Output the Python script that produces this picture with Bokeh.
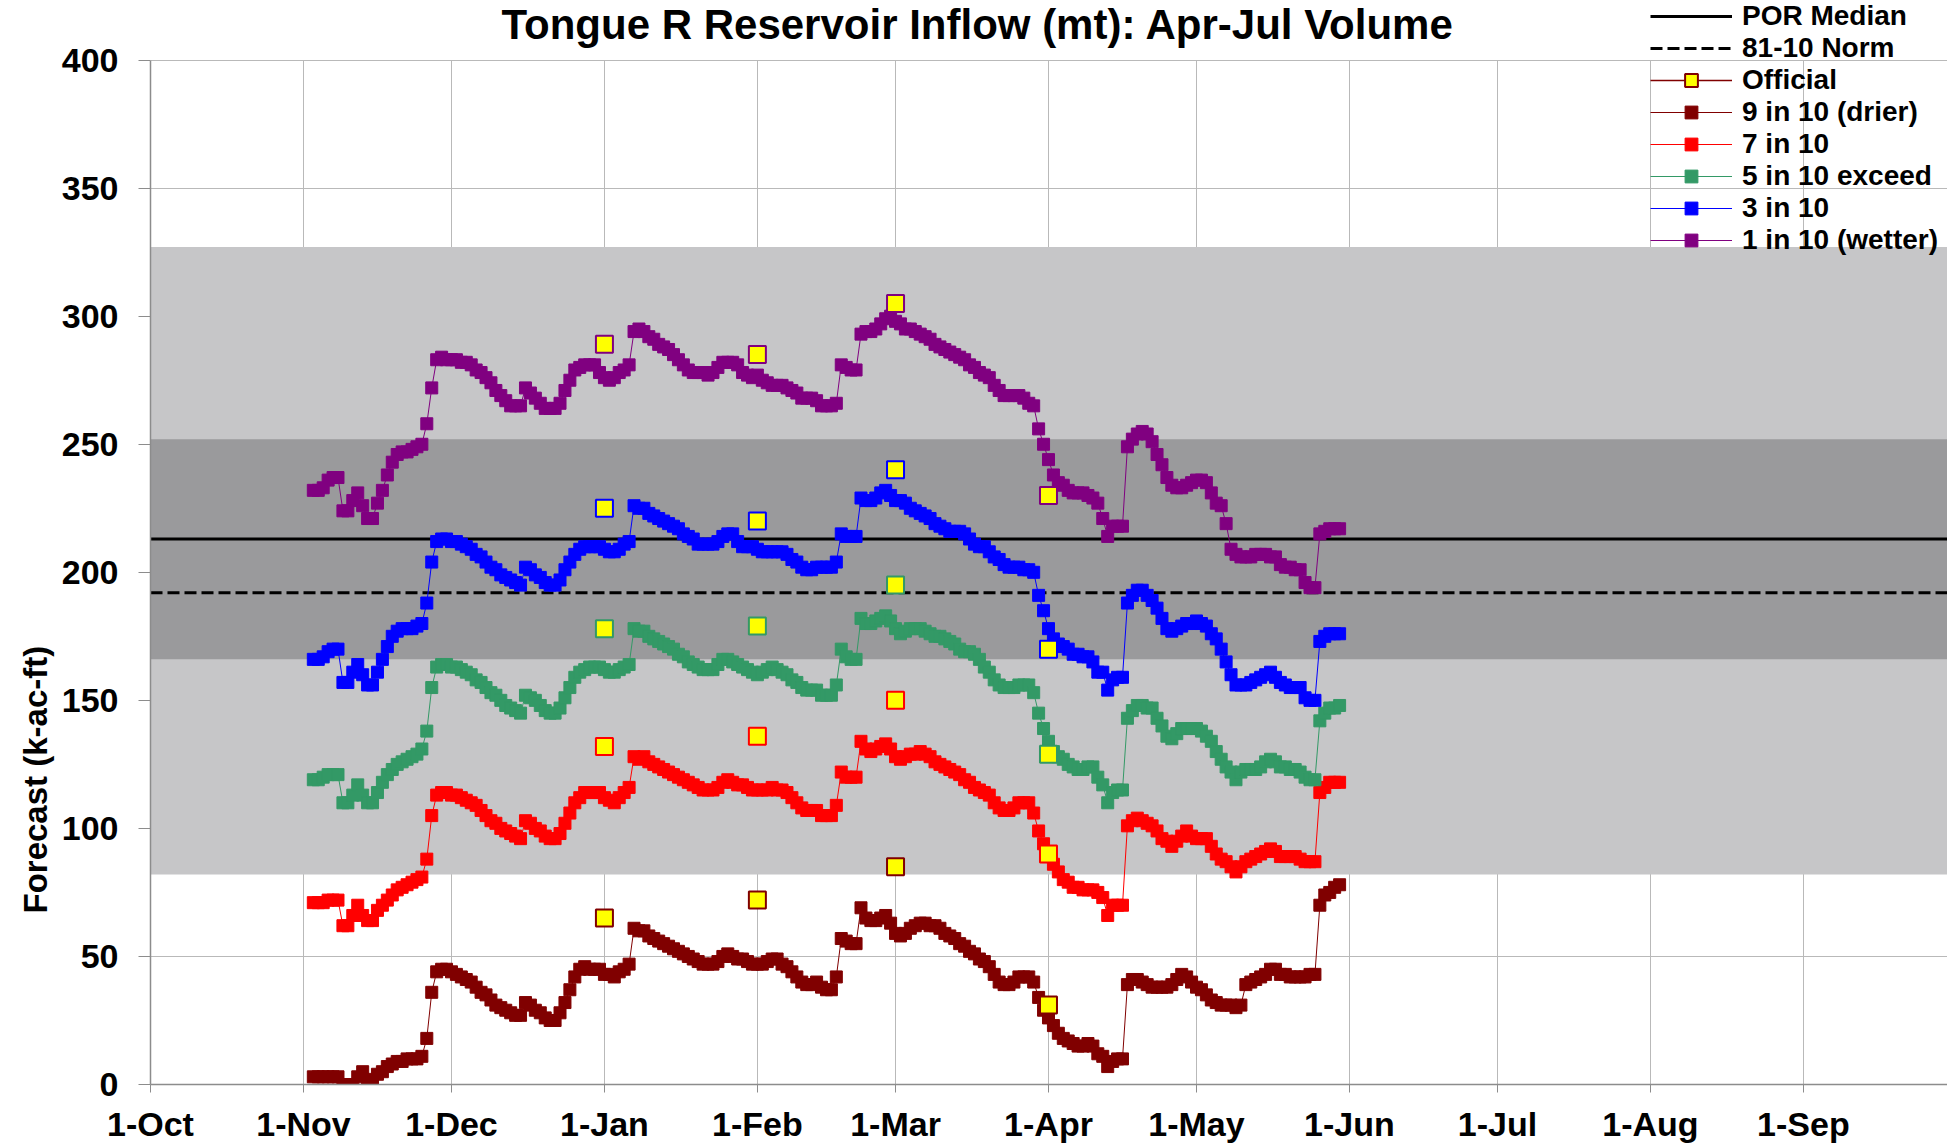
import numpy as np
from bokeh.plotting import figure
from bokeh.models import (Range1d, FixedTicker, BoxAnnotation, Label, Title,
                          Legend, LegendItem)
from bokeh.embed import file_html
from bokeh.resources import INLINE

# ---------------- text ----------------
title_text = "Tongue R Reservoir Inflow (mt): Apr-Jul Volume"
y_label_text = "Forecast (k-ac-ft)"

# ---------------- axes ----------------
# x = day of water year (0 = 1-Oct)
month_labels = ["1-Oct", "1-Nov", "1-Dec", "1-Jan", "1-Feb", "1-Mar",
                "1-Apr", "1-May", "1-Jun", "1-Jul", "1-Aug", "1-Sep"]
month_days = [0, 31, 61, 92, 123, 151, 182, 212, 243, 273, 304, 335]
y_ticks = [0, 50, 100, 150, 200, 250, 300, 350, 400]
y_top = 400

# ---------------- climatology ----------------
por_median = 213
norm_8110 = 192
outer_band = (82, 327)     # light grey band
inner_band = (166, 252)    # dark grey band

# ---------------- daily forecasts (first value = 3-Nov) ----------------
first_day = 33

exc_10 = [  # 1 in 10 (wetter)
    232, 232, 233, 236, 237, 237, 224, 224, 228, 231,
    226, 221, 221, 227, 232, 238, 243, 246, 247, 247,
    248, 249, 250, 258, 272, 283, 284, 283, 283, 283,
    282, 282, 281, 279, 278, 276, 274, 271, 269, 267,
    265, 265, 265, 272, 270, 268, 266, 264, 264, 264,
    266, 271, 275, 279, 280, 281, 281, 281, 278, 276,
    275, 276, 278, 279, 281, 294, 295, 294, 292, 291,
    289, 288, 287, 285, 283, 281, 279, 278, 278, 278,
    277, 278, 280, 282, 282, 282, 281, 278, 277, 276,
    277, 275, 274, 273, 273, 273, 272, 271, 270, 268,
    268, 268, 267, 265, 265, 265, 266, 281, 280, 279,
    279, 293, 294, 294, 295, 297, 299, 300, 298, 297,
    295, 295, 294, 293, 292, 291, 289, 288, 287, 286,
    285, 284, 283, 281, 280, 278, 277, 276, 273, 271,
    269, 269, 269, 269, 268, 266, 265, 256, 250, 244,
    238, 235, 234, 232, 231, 231, 231, 230, 229, 227,
    221, 214, 218, 218, 218, 249, 252, 254, 255, 254,
    251, 246, 242, 237, 234, 233, 233, 234, 235, 236,
    236, 235, 231, 227, 226, 219, 209, 207, 206, 206,
    206, 207, 207, 207, 206, 206, 203, 202, 202, 201,
    201, 196, 194, 194, 215, 216, 217, 217, 217,
]

exc_30 = [  # 3 in 10
    166, 166, 167, 169, 170, 170, 157, 157, 161, 164,
    160, 156, 156, 161, 166, 171, 175, 177, 178, 178,
    178, 179, 180, 188, 204, 212, 213, 213, 212, 212,
    211, 210, 209, 207, 206, 204, 202, 201, 199, 198,
    197, 196, 195, 202, 201, 199, 198, 196, 195, 195,
    197, 201, 204, 207, 209, 210, 210, 210, 210, 209,
    208, 208, 209, 211, 212, 226, 225, 225, 223, 222,
    221, 220, 219, 218, 217, 215, 214, 213, 211, 211,
    211, 211, 212, 214, 215, 215, 212, 210, 210, 210,
    209, 208, 208, 208, 208, 208, 207, 205, 204, 202,
    201, 201, 202, 202, 202, 202, 204, 215, 214, 214,
    214, 229, 228, 228, 229, 231, 232, 230, 228, 228,
    227, 225, 224, 223, 222, 221, 219, 218, 217, 216,
    216, 216, 215, 213, 211, 210, 210, 208, 206, 205,
    203, 202, 202, 202, 201, 201, 200, 191, 185, 178,
    174, 172, 171, 170, 168, 168, 167, 167, 165, 161,
    161, 154, 158, 159, 159, 188, 191, 193, 193, 191,
    189, 186, 182, 178, 177, 178, 179, 180, 180, 181,
    180, 179, 176, 174, 170, 165, 160, 156, 156, 156,
    157, 158, 159, 160, 161, 159, 157, 156, 155, 155,
    155, 151, 150, 150, 173, 175, 176, 176, 176,
]

exc_50 = [  # 5 in 10 exceed
    119, 119, 120, 121, 121, 121, 110, 110, 113, 117,
    113, 110, 110, 114, 118, 121, 123, 125, 126, 127,
    128, 129, 131, 138, 155, 163, 164, 164, 163, 163,
    162, 161, 160, 158, 157, 155, 153, 152, 150, 148,
    147, 146, 145, 152, 151, 150, 148, 146, 145, 145,
    147, 151, 155, 159, 161, 162, 163, 163, 163, 162,
    161, 161, 162, 163, 164, 178, 177, 177, 175, 174,
    173, 172, 171, 170, 168, 167, 165, 164, 163, 162,
    162, 162, 164, 166, 166, 165, 164, 163, 162, 161,
    160, 161, 162, 163, 162, 161, 160, 158, 157, 155,
    154, 154, 154, 152, 152, 152, 156, 170, 167, 166,
    166, 182, 180, 180, 181, 182, 183, 181, 178, 176,
    177, 178, 178, 178, 177, 176, 175, 175, 174, 173,
    172, 170, 169, 169, 168, 166, 163, 161, 158, 156,
    155, 155, 155, 156, 156, 156, 153, 145, 139, 134,
    130, 128, 127, 125, 124, 123, 123, 124, 124, 120,
    117, 110, 114, 115, 115, 143, 146, 148, 148, 147,
    147, 143, 140, 136, 135, 137, 139, 139, 139, 139,
    138, 136, 134, 130, 127, 124, 122, 119, 122, 123,
    123, 123, 124, 126, 127, 126, 124, 124, 123, 123,
    122, 120, 119, 119, 142, 145, 147, 147, 148,
]

exc_70 = [  # 7 in 10
    71, 71, 71, 72, 72, 72, 62, 62, 66, 70,
    66, 64, 64, 68, 70, 72, 74, 76, 77, 78,
    79, 80, 81, 88, 105, 113, 114, 114, 113, 113,
    112, 111, 110, 109, 107, 105, 103, 102, 100, 99,
    98, 97, 96, 103, 102, 100, 99, 97, 96, 96,
    98, 102, 106, 110, 112, 114, 114, 114, 114, 112,
    111, 110, 112, 114, 116, 128, 127, 128, 126, 125,
    124, 123, 122, 121, 120, 119, 118, 117, 116, 115,
    115, 115, 116, 118, 119, 118, 117, 117, 116, 115,
    115, 115, 115, 116, 115, 115, 114, 112, 110, 108,
    107, 107, 107, 105, 105, 105, 109, 122, 120, 120,
    120, 134, 131, 130, 131, 132, 133, 131, 128, 127,
    128, 129, 129, 130, 129, 128, 126, 125, 124, 123,
    122, 121, 119, 118, 116, 115, 114, 113, 110, 108,
    107, 107, 108, 110, 110, 110, 106, 99, 94, 89,
    86, 83, 80, 79, 77, 77, 76, 76, 76, 75,
    73, 66, 70, 70, 70, 101, 103, 104, 103, 102,
    101, 99, 96, 95, 93, 95, 97, 99, 97, 96,
    96, 96, 93, 90, 88, 87, 85, 83, 85, 87,
    88, 89, 90, 91, 92, 91, 89, 89, 89, 89,
    88, 87, 87, 87, 114, 116, 118, 118, 118,
]

exc_90 = [  # 9 in 10 (drier)
    3, 3, 3, 3, 3, 3, 0, 0, 0, 3,
    5, 2, 1, 4, 5, 7, 8, 9, 9, 10,
    10, 10, 11, 18, 36, 44, 45, 45, 44, 43,
    42, 41, 40, 38, 36, 35, 33, 31, 30, 29,
    28, 27, 27, 32, 31, 29, 28, 26, 25, 25,
    28, 32, 37, 42, 45, 46, 45, 45, 45, 43,
    43, 42, 44, 45, 47, 61, 60, 60, 58, 57,
    56, 55, 54, 53, 52, 51, 50, 49, 48, 47,
    47, 47, 48, 50, 51, 50, 49, 49, 48, 47,
    47, 47, 48, 49, 49, 47, 46, 44, 42, 40,
    39, 39, 40, 38, 37, 37, 42, 57, 56, 55,
    55, 69, 65, 64, 64, 65, 66, 63, 59, 58,
    59, 61, 62, 63, 63, 62, 62, 61, 59, 58,
    57, 55, 54, 52, 51, 49, 48, 46, 43, 40,
    39, 39, 40, 42, 42, 42, 40, 34, 29, 26,
    23, 20, 18, 17, 16, 15, 15, 16, 15, 12,
    11, 7, 9, 10, 10, 39, 41, 41, 40, 39,
    38, 38, 38, 38, 39, 41, 43, 42, 40, 38,
    37, 35, 33, 32, 31, 31, 31, 30, 31, 39,
    40, 41, 42, 43, 45, 45, 43, 43, 42, 42,
    42, 42, 43, 43, 70, 74, 75, 77, 78,
]

# ---------------- official (1st of month) forecasts ----------------
official_days = [92, 123, 151, 182]
official_90 = [65, 72, 85, 31]
official_70 = [132, 136, 150, 90]
official_50 = [178, 179, 195, 129]
official_30 = [225, 220, 240, 170]
official_10 = [289, 285, 305, 230]

series_names = ["9 in 10 (drier)", "7 in 10", "5 in 10 exceed", "3 in 10", "1 in 10 (wetter)"]
series_vals = [exc_90, exc_70, exc_50, exc_30, exc_10]
official_vals = [official_90, official_70, official_50, official_30, official_10]
series_colors = ["#800000", "#FF0000", "#339966", "#0000FF", "#800080"]

FONT = "Liberation Sans"
W, H = 1947, 1145
LEFT, BOTTOM = 150, 61
PX_PER_DAY = 4.934
PX_PER_UNIT = 2.561
x_end = (W - LEFT) / PX_PER_DAY
y_end = (H - BOTTOM) / PX_PER_UNIT   # frame reaches the top edge; values stop at 400

p = figure(width=W, height=H,
           x_range=Range1d(0, x_end), y_range=Range1d(0, y_end),
           output_backend="svg", toolbar_location=None, tools="",
           min_border_left=LEFT, min_border_right=0,
           min_border_top=0, min_border_bottom=BOTTOM)
p.outline_line_color = None
p.background_fill_color = "white"
p.border_fill_color = "white"

# axes
p.xaxis.ticker = FixedTicker(ticks=month_days)
p.xaxis.major_label_overrides = {d: lab for d, lab in zip(month_days, month_labels)}
p.yaxis.ticker = FixedTicker(ticks=y_ticks)
p.yaxis.bounds = (0, y_top)
for ax in (p.xaxis[0], p.yaxis[0]):
    ax.axis_line_color = "#8C8C8C"
    ax.axis_line_width = 1.5
    ax.major_tick_line_color = "#8C8C8C"
    ax.minor_tick_line_color = None
    ax.major_tick_in = 0
    ax.major_label_text_font = FONT
    ax.major_label_text_font_style = "bold"
    ax.major_label_text_font_size = "34px"
    ax.major_label_text_color = "black"
p.xaxis.major_tick_out = 8
p.xaxis.major_label_standoff = 12
p.yaxis.major_tick_out = 12
p.yaxis.major_label_standoff = 20

p.xgrid.grid_line_color = "#B9B9B9"
p.ygrid.grid_line_color = "#B9B9B9"
p.xgrid.grid_line_width = 1
p.ygrid.grid_line_width = 1
if "cross_bounds" in p.xgrid[0].properties():
    p.xgrid[0].cross_bounds = (0, y_top)

# climatology bands; white cover above the top of the value axis
p.add_layout(BoxAnnotation(bottom=outer_band[0], top=outer_band[1], fill_color="#C6C6C8",
                           fill_alpha=1.0, line_alpha=0, level="underlay"))
p.add_layout(BoxAnnotation(bottom=inner_band[0], top=inner_band[1], fill_color="#9A9A9C",
                           fill_alpha=1.0, line_alpha=0, level="underlay"))
p.add_layout(BoxAnnotation(bottom=y_top + 0.5, fill_color="white",
                           fill_alpha=1.0, line_alpha=0, level="underlay"))

# median / norm lines
r_med = p.line([0, x_end], [por_median, por_median], line_color="black", line_width=3)
r_norm = p.line([0, x_end], [norm_8110, norm_8110], line_color="black", line_width=3,
                line_dash="12 5")

# forecast series
legend_parts = []
for name, vals, col in zip(series_names, series_vals, series_colors):
    xs = np.arange(first_day, first_day + len(vals))
    rl = p.line(xs, vals, line_color=col, line_width=1)
    rs = p.scatter(xs, vals, marker="square", size=12, fill_color=col, line_color=col,
                   line_width=1)
    legend_parts.append((name, [rl, rs]))

official_renderers = []
for vals, col in zip(official_vals, series_colors):
    r = p.scatter(official_days, vals, marker="square", size=17, fill_color="#FFFF00",
                  line_color=col, line_width=2)
    official_renderers.append(r)
off_line = p.line(official_days, official_90, line_color="#800000", line_width=1.5,
                  visible=False)

items = [LegendItem(label="POR Median", renderers=[r_med]),
         LegendItem(label="81-10 Norm", renderers=[r_norm]),
         LegendItem(label="Official", renderers=[off_line, official_renderers[0]])]
for name, rends in legend_parts:
    items.append(LegendItem(label=name, renderers=rends))

legend = Legend(items=items, location=(1500, 828),
                label_text_font=FONT, label_text_font_style="bold",
                label_text_font_size="28px", label_text_color="black",
                glyph_width=82, glyph_height=32, label_height=32,
                label_standoff=10, spacing=0, padding=0, margin=0,
                background_fill_alpha=0, border_line_alpha=0)
p.add_layout(legend)

# chart title (inside the tall frame, above the value area)
p.add_layout(Label(x=167.7, y=414.0, text=title_text, text_align="center",
                   text_baseline="alphabetic", text_font=FONT, text_font_style="bold",
                   text_font_size="42px", text_color="black"))

# y-axis title, placed toward the lower part of the axis
p.add_layout(Title(text=y_label_text, align="left", offset=171,
                   text_font=FONT, text_font_style="bold", text_font_size="33px",
                   text_color="black", standoff=10), "left")

open("out.html", "w").write(file_html(p, INLINE))
